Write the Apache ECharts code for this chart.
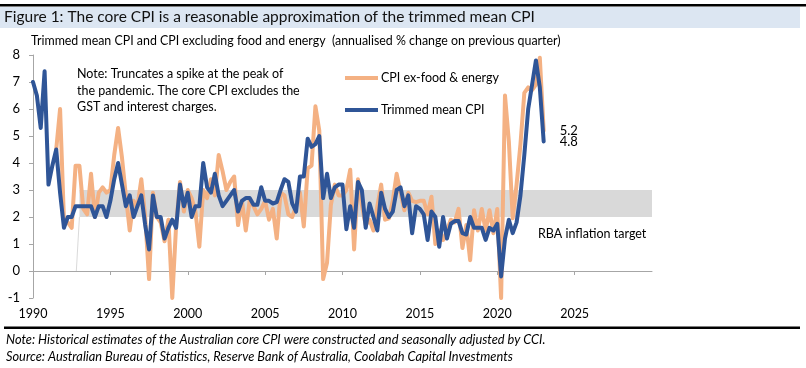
<!DOCTYPE html>
<html><head><meta charset="utf-8">
<script src="https://cdn.jsdelivr.net/npm/echarts@6/dist/echarts.min.js"></script>
<style>html,body{margin:0;padding:0;background:#fff}#c{width:806px;height:368px}</style>
</head><body><div id="c"></div>
<script>
// Quarterly data, first value = 1990 Q1
const startYear = 1990;
const trimmedMean = [
  7.0, 6.5, 5.3, 7.4,
  3.2, 3.9, 4.5, 2.9,
  1.6, 2.0, 2.0, 2.4,
  2.4, 2.4, 2.4, 2.4,
  2.0, 2.4, 2.4, 2.0,
  2.6, 3.4, 4.0, 3.2,
  2.4, 2.8, 2.0, 2.4,
  2.8, 1.7, 0.8, 2.8,
  2.0, 2.0, 1.2, 1.6,
  1.9, 1.6, 3.2, 2.4,
  2.9, 2.0, 2.4, 2.4,
  4.0, 3.1, 2.9, 3.6,
  2.8, 2.4, 2.6, 2.8,
  3.0, 2.2, 2.6, 2.7,
  2.7, 2.45, 2.45, 3.1,
  2.6, 2.6, 2.5, 2.55,
  3.0, 3.4, 3.3, 2.5,
  2.2, 3.5, 3.5, 4.9,
  4.6, 4.7, 5.0, 2.7,
  3.6, 2.7, 3.1, 3.2,
  3.2, 1.55, 2.4, 1.6,
  3.3, 3.0, 1.6, 2.5,
  2.0, 1.5, 2.9, 2.3,
  2.0, 2.2, 3.0, 3.1,
  2.4, 2.8, 1.4, 2.4,
  2.3, 2.1, 1.15, 2.2,
  2.0, 0.9, 2.0, 1.2,
  1.75, 1.85, 1.85, 1.4,
  1.35, 2.0, 1.6, 1.6,
  1.6, 1.15, 1.6, 1.5,
  1.75, -0.2, 1.2, 1.9,
  1.4, 1.8, 2.8, 4.3,
  6.0, 6.9, 7.8, 6.8,
  4.8
];
const cpiExFoodEnergy = [
  null, null, null, null,
  null, null, 4.5, 6.0,
  1.9, 1.8, 1.6, 3.9,
  3.9, 2.3, 2.1, 3.6,
  2.0, 2.9, 3.1, 2.9,
  3.0, 4.3, 5.3, 4.2,
  2.8, 1.5, 2.6, 2.4,
  3.4, 2.0, -0.3, 2.9,
  2.0, 1.8, 1.1, 1.9,
  -1.0, 1.7, 3.3, 2.2,
  3.0, 2.7, 2.2, 0.9,
  3.0, 2.7, 3.4, 2.8,
  4.3, 3.7, 3.0, 3.3,
  3.5, 1.7, 2.6, 1.5,
  2.6, 2.4, 2.1, 2.3,
  2.6, 1.9, 2.3, 1.2,
  2.9, 2.8, 2.1, 2.0,
  2.4, 2.9, 1.65, 3.8,
  3.9, 6.1, 5.2, -0.3,
  0.3, 2.45, 3.2, 2.8,
  2.8, 3.0, 3.75, 0.8,
  3.4, 2.45, 1.7, 1.9,
  1.5, 2.4, 3.2, 1.9,
  1.95, 2.6, 3.6, 2.9,
  2.25, 2.9, 2.6, 2.55,
  2.6, 2.6, 2.1, 2.75,
  1.0, 1.5, 1.15, 1.5,
  1.9, 1.8, 2.3, 0.85,
  1.7, 0.4, 2.25, 1.5,
  2.3, 1.5, 2.25, 1.4,
  2.3, -1.0, 6.5, 4.8,
  1.95, 3.2, 4.7, 6.6,
  6.8, 6.7, 6.9, 7.9,
  5.2
];
const targetBand = [2, 3];
const targetBandStart = 1993;
const targetBandEdge = [[1992.8, 0], [1993, 2]];
const seriesNames = ['CPI ex-food & energy', 'Trimmed mean CPI'];
const xRange = [1990, 2030, 5];
const yRange = [-1, 8, 1];

const FONT = 'Lato, "Liberation Sans", sans-serif';
function toPairs(arr) {
  return arr.map((v, i) => [startYear + i / 4, v]).filter(p => p[1] !== null);
}
const chart = echarts.init(document.getElementById('c'), null, {renderer: 'canvas'});
const axisGray = '#a6a6a6';
const option = {
  animation: false,
  backgroundColor: '#fff',
  grid: {left: 33, right: 154, top: 55, bottom: 70, containLabel: false},
  xAxis: {
    type: 'value', min: xRange[0], max: xRange[1], interval: xRange[2],
    axisLine: {onZero: true, lineStyle: {color: axisGray, width: 1}},
    axisTick: {show: true, length: 4, lineStyle: {color: axisGray}},
    axisLabel: {margin: 9, showMaxLabel: false, color: '#000', fontSize: 12.5, fontFamily: FONT,
      formatter: v => String(v)},
    splitLine: {show: false}
  },
  yAxis: {
    type: 'value', min: yRange[0], max: yRange[1], interval: yRange[2],
    axisLine: {show: true, lineStyle: {color: axisGray, width: 1}},
    axisTick: {show: true, length: 4, lineStyle: {color: axisGray}},
    axisLabel: {margin: 13, color: '#000', fontSize: 13, fontFamily: FONT},
    splitLine: {show: false}
  },
  series: [
    {
      type: 'line', name: 'band', data: targetBandEdge, showSymbol: false, silent: true,
      lineStyle: {color: '#bfbfbf', width: 0.6}, z: 1,
      markArea: {
        silent: true, itemStyle: {color: '#d9d9d9'},
        data: [[{xAxis: targetBandStart, yAxis: targetBand[0]}, {xAxis: xRange[1], yAxis: targetBand[1]}]]
      }
    },
    {
      type: 'line', name: seriesNames[0], data: toPairs(cpiExFoodEnergy), showSymbol: false, z: 2,
      lineStyle: {color: '#F4B183', width: 4, cap: 'round', join: 'round'},
      endLabel: {show: true, distance: 16, color: '#000', fontSize: 13, fontFamily: FONT,
        formatter: p => p.value[1].toFixed(1)}
    },
    {
      type: 'line', name: seriesNames[1], data: toPairs(trimmedMean), showSymbol: false, z: 3,
      lineStyle: {color: '#2F5597', width: 4, cap: 'round', join: 'round'},
      endLabel: {show: true, distance: 16, color: '#000', fontSize: 13, fontFamily: FONT,
        formatter: p => p.value[1].toFixed(1)}
    }
  ],
  graphic: [
    {type: 'rect', shape: {x: 0, y: 4, width: 806, height: 2.5}, style: {fill: '#000'}},
    {type: 'rect', shape: {x: 0, y: 7, width: 800, height: 21}, style: {fill: '#dce6f2'}},
    {type: 'text', x: 4, y: 17, style: {text: 'Figure 1: The core CPI is a reasonable approximation of the trimmed mean CPI', fontSize: 15.5, fontFamily: FONT, fill: '#111', verticalAlign: 'middle'}},
    {type: 'text', x: 31, y: 41, style: {text: 'Trimmed mean CPI and CPI excluding food and energy  (annualised % change on previous quarter)', fontSize: 12.4, fontFamily: FONT, fill: '#000', verticalAlign: 'middle'}},
    {type: 'text', x: 77, y: 74, style: {text: 'Note: Truncates a spike at the peak of', fontSize: 12.5, fontFamily: FONT, fill: '#000', verticalAlign: 'middle'}},
    {type: 'text', x: 77, y: 91, style: {text: 'the pandemic. The core CPI excludes the', fontSize: 12.5, fontFamily: FONT, fill: '#000', verticalAlign: 'middle'}},
    {type: 'text', x: 77, y: 107, style: {text: 'GST and interest charges.', fontSize: 12.5, fontFamily: FONT, fill: '#000', verticalAlign: 'middle'}},
    {type: 'line', shape: {x1: 345, y1: 78, x2: 378, y2: 78}, style: {stroke: '#F4B183', lineWidth: 4}},
    {type: 'text', x: 381, y: 78, style: {text: seriesNames[0], fontSize: 12.5, fontFamily: FONT, fill: '#000', verticalAlign: 'middle'}},
    {type: 'line', shape: {x1: 345, y1: 110, x2: 378, y2: 110}, style: {stroke: '#2F5597', lineWidth: 4}},
    {type: 'text', x: 381, y: 110, style: {text: seriesNames[1], fontSize: 12.5, fontFamily: FONT, fill: '#000', verticalAlign: 'middle'}},
    {type: 'text', x: 538, y: 234, style: {text: 'RBA inflation target', fontSize: 12.5, fontFamily: FONT, fill: '#000', verticalAlign: 'middle'}},
    {type: 'rect', shape: {x: 4, y: 326.5, width: 796, height: 2.5}, style: {fill: '#000'}},
    {type: 'text', x: 6, y: 340, style: {text: 'Note: Historical estimates of the Australian core CPI were constructed and seasonally adjusted by CCI.', fontSize: 12.8, fontStyle: 'italic', fontFamily: FONT, fill: '#000', verticalAlign: 'middle'}},
    {type: 'text', x: 6, y: 357, style: {text: 'Source: Australian Bureau of Statistics, Reserve Bank of Australia, Coolabah Capital Investments', fontSize: 12.8, fontStyle: 'italic', fontFamily: FONT, fill: '#000', verticalAlign: 'middle'}}
  ]
};
chart.setOption(option);
</script></body></html>
